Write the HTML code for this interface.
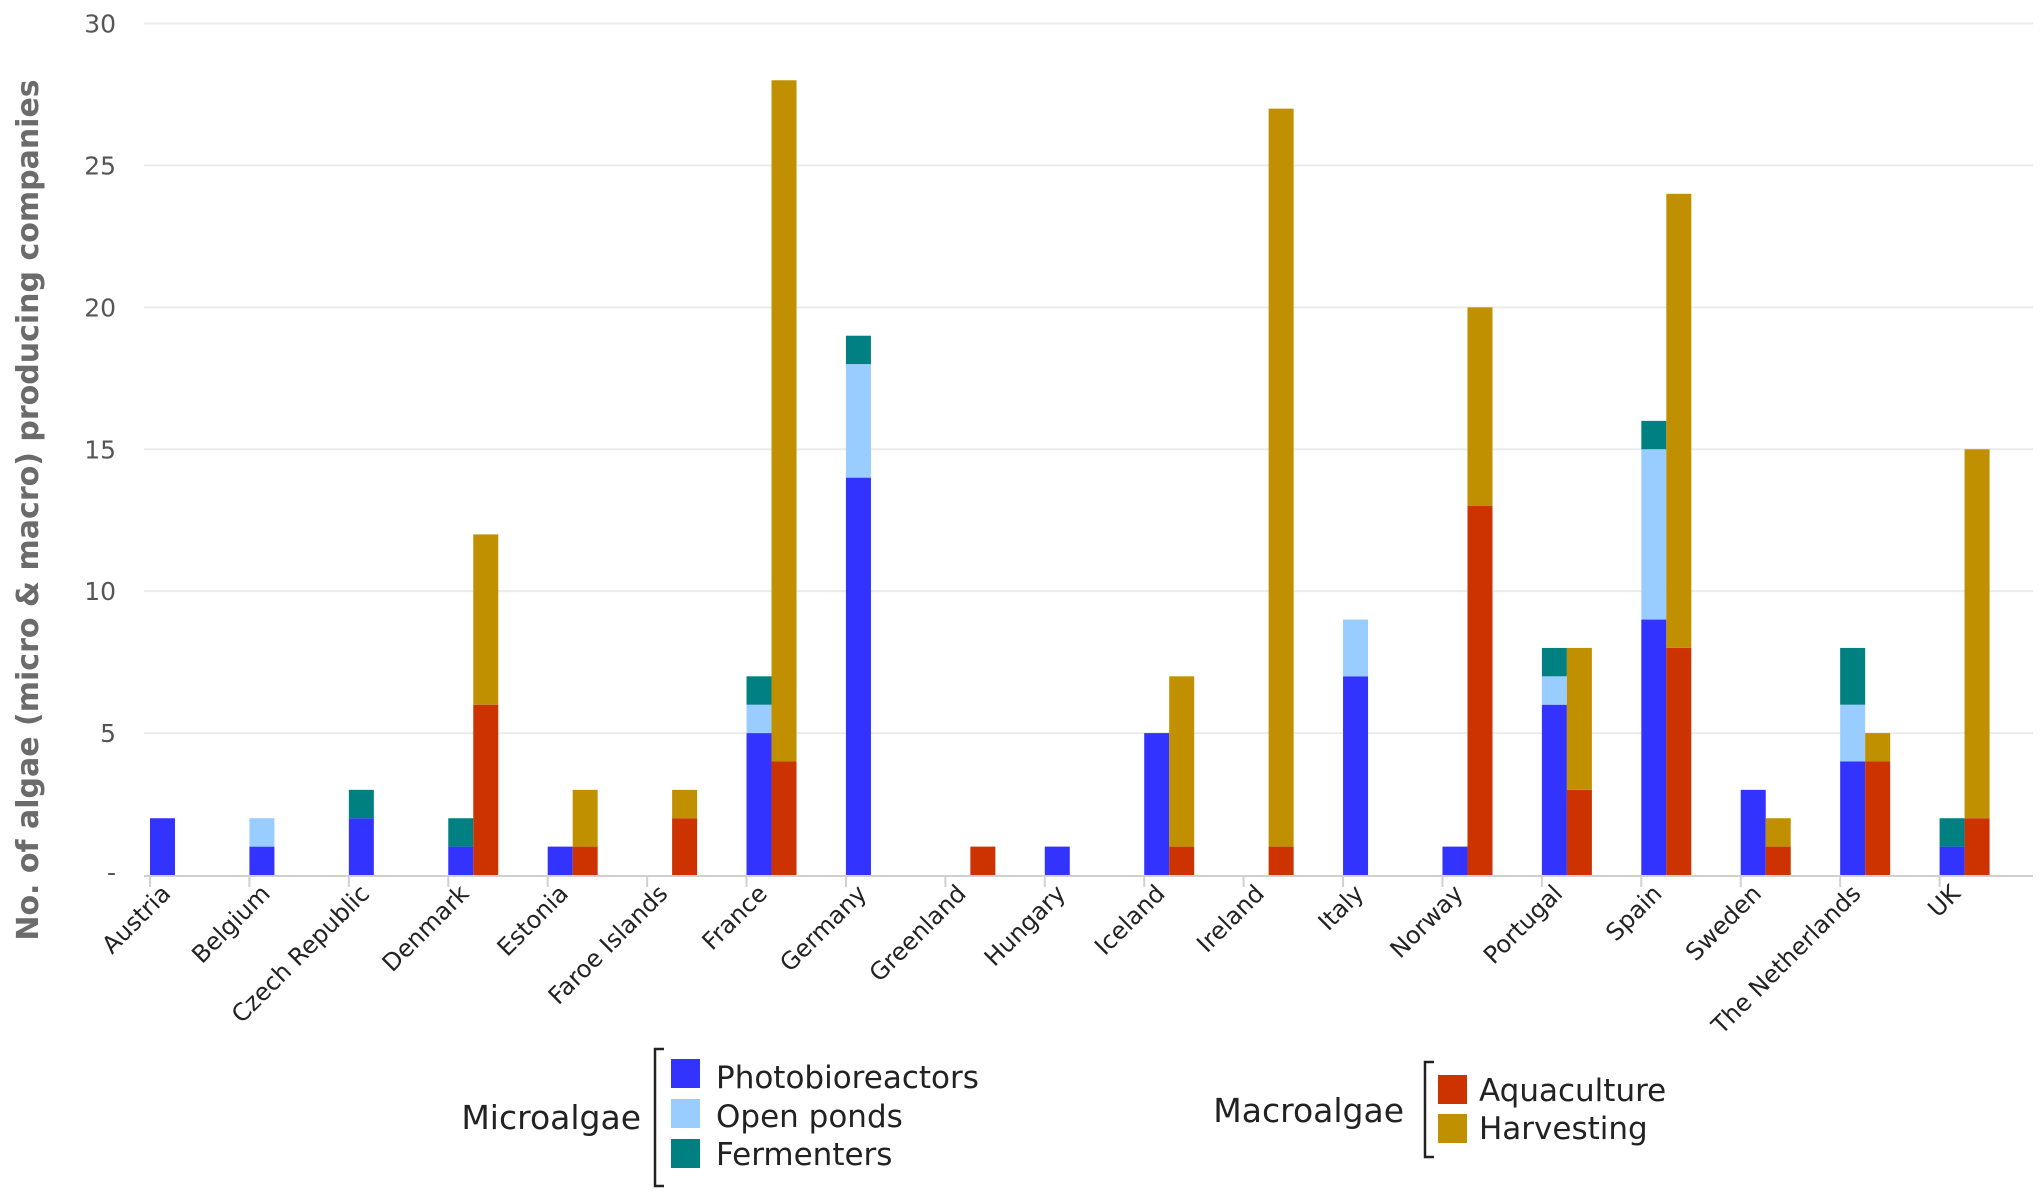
<!DOCTYPE html>
<html><head><meta charset="utf-8"><style>
html,body{margin:0;padding:0;background:#fff;}
svg{display:block;font-family:"DejaVu Sans","Liberation Sans",sans-serif;}
</style></head><body>
<svg id="chart" width="2040" height="1195" viewBox="0 0 2040 1195">
<g id="grid"></g>
<g id="yticks"></g>
<g id="bars"></g>
<g id="xlabels"></g>
<text transform="translate(38,510) rotate(-90)" text-anchor="middle" font-size="30" font-weight="bold" fill="#6b6b6b">No. of algae (micro &amp; macro) producing companies</text>
<g>
<text x="641" y="1129" text-anchor="end" font-size="33" fill="#222">Microalgae</text>
<path d="M664,1049 L655,1049 L655,1186 L664,1186" fill="none" stroke="#222" stroke-width="2.5"/>
<rect x="671" y="1059" width="29" height="29" fill="#3333ff"/>
<text x="716" y="1088" font-size="31" fill="#222">Photobioreactors</text>
<rect x="671" y="1099" width="29" height="29" fill="#99ccff"/>
<text x="716" y="1127" font-size="31" fill="#222">Open ponds</text>
<rect x="671" y="1139" width="29" height="29" fill="#008080"/>
<text x="716" y="1165" font-size="31" fill="#222">Fermenters</text>
</g>
<g>
<text x="1404" y="1122" text-anchor="end" font-size="33" fill="#222">Macroalgae</text>
<path d="M1434,1062 L1425,1062 L1425,1157 L1434,1157" fill="none" stroke="#222" stroke-width="2.5"/>
<rect x="1438" y="1075" width="29" height="29" fill="#cc3300"/>
<text x="1479" y="1101" font-size="31" fill="#222">Aquaculture</text>
<rect x="1438" y="1114" width="29" height="29" fill="#c09000"/>
<text x="1479" y="1139" font-size="31" fill="#222">Harvesting</text>
</g>
</svg>
<script>
const countries=["Austria","Belgium","Czech Republic","Denmark","Estonia","Faroe Islands","France","Germany","Greenland","Hungary","Iceland","Ireland","Italy","Norway","Portugal","Spain","Sweden","The Netherlands","UK"];
const photobioreactors=[2,1,2,1,1,0,5,14,0,1,5,0,7,1,6,9,3,4,1];
const openPonds=[0,1,0,0,0,0,1,4,0,0,0,0,2,0,1,6,0,2,0];
const fermenters=[0,0,1,1,0,0,1,1,0,0,0,0,0,0,1,1,0,2,1];
const aquaculture=[0,0,0,6,1,2,4,0,1,0,1,1,0,13,3,8,1,4,2];
const harvesting=[0,0,0,6,2,1,24,0,0,0,6,26,0,7,5,16,1,1,13];
const yTicks=[5,10,15,20,25,30];
const NS="http://www.w3.org/2000/svg";
const X0=144,X1=2033,Y0=875,Y30=23.5,YMAX=30;
const band=(X1-X0)/countries.length, bw=25;
function y(v){return Y0-(v/YMAX)*(Y0-Y30);}
function bandX(i){return X0+i*band;}
function mk(tag,attrs,parent){const e=document.createElementNS(NS,tag);for(const k in attrs)e.setAttribute(k,attrs[k]);parent.appendChild(e);return e;}
const grid=document.getElementById('grid'),yt=document.getElementById('yticks'),bars=document.getElementById('bars'),xl=document.getElementById('xlabels');
yTicks.forEach(v=>{
  const l=mk('line',{x1:X0,x2:X1,y1:y(v),y2:y(v),stroke:'#ececec','stroke-width':2},grid);
  
  
  const t=mk('text',{x:116,y:y(v)+9,'text-anchor':'end','font-size':25,fill:'#555'},yt);
  t.textContent=v;
  
  
});
const z=mk('text',{x:116,y:Y0+6,'text-anchor':'end','font-size':25,fill:'#555'},yt);
z.textContent='-';


const base=mk('line',{x1:X0,x2:X1,y1:Y0+1,y2:Y0+1,stroke:'#d0d0d0','stroke-width':2},grid);


function stack(i,x,series,colors,names){
  let acc=0;
  series.forEach((s,k)=>{const v=s[i];if(v>0){
    const r=mk('rect',{x:x,y:y(acc+v),width:bw,height:y(acc)-y(acc+v),fill:colors[k]},bars);
    
    
  }acc+=v;});
}
countries.forEach((c,i)=>{
  const bx=bandX(i)+6;
  const tk=mk('line',{x1:bx,x2:bx,y1:Y0+2,y2:Y0+12,stroke:'#d0d0d0','stroke-width':2},grid);
  
  
  stack(i,bx,[photobioreactors,openPonds,fermenters],['#3333ff','#99ccff','#008080'],['photobioreactors','open-ponds','fermenters']);
  stack(i,bx+bw,[aquaculture,harvesting],['#cc3300','#c09000'],['aquaculture','harvesting']);
  const cx=bx+bw-3;
  const t=mk('text',{transform:`translate(${cx},${Y0+20}) rotate(-45)`,'text-anchor':'end','font-size':24,fill:'#222'},xl);
  t.textContent=c;
  
  
});
</script>
</body></html>
